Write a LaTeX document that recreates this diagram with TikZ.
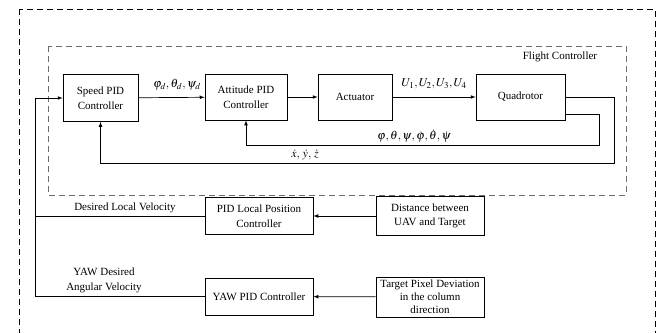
\documentclass[tikz,border=0pt]{standalone}
\usepackage{mathptmx}
\usepackage{fontspec}
\setmainfont{Liberation Serif}
\usepackage{tikz}
\usetikzlibrary{calc}
\tikzset{ ctrl_box/.style = {rectangle, draw, line width=0.7pt, align=center, inner sep=1pt} }
\tikzset{ sig_line/.style = {line width=0.7pt, >=latex} }
\tikzset{ frame_box/.style = {dash pattern=on 6pt off 4pt, line width=0.7pt} }
\tikzset{ sig_label/.style = {font=\fontsize{12}{14}\selectfont, inner sep=1pt} }

\begin{document}
\begin{tikzpicture}[x=1pt,y=-1pt,font=\fontsize{11}{14.5}\selectfont]
\useasboundingbox (0,0) rectangle (666,332);
\clip (0,0) rectangle (666,332);
\draw[frame_box] (19,9) rectangle (655,345);
\draw[frame_box, gray!85!black] (48,46) rectangle (626,195);
\node (fc) at (560,57) {Flight Controller};
\node[ctrl_box, minimum width=75pt, minimum height=47pt] (speed) at (100.5,98) {Speed PID\\Controller};
\node[ctrl_box, minimum width=82pt, minimum height=46pt] (att) at (246,97) {Attitude PID\\Controller};
\node[ctrl_box, minimum width=74pt, minimum height=46pt] (act) at (355,97) {Actuator};
\node[ctrl_box, minimum width=89pt, minimum height=46pt] (quad) at (520.5,97) {Quadrotor};
\node[ctrl_box, minimum width=108pt, minimum height=37pt] (pidpos) at (259,216) {PID Local Position\\Controller};
\node[ctrl_box, minimum width=108pt, minimum height=39pt] (dist) at (430,216) {Distance between\\UAV and Target};
\node[ctrl_box, minimum width=108pt, minimum height=40pt, font=\fontsize{11}{13}\selectfont] (target) at (430,297) {Target Pixel Deviation\\in the column\\direction};
\node[ctrl_box, minimum width=108pt, minimum height=37pt] (yawpid) at (259,296.5) {YAW PID Controller};
\coordinate (bus) at (35,98);
% forward path
\draw[sig_line,->] (speed) -- (att);
\draw[sig_line,->] (att) -- (act);
\draw[sig_line,->] (act) -- (quad);
\node[sig_label] (attref) at (177,85) {$\varphi_d,\theta_d,\psi_d$};
\node[sig_label] (uin) at (434,84) {$U_1,U_2,U_3,U_4$};
% feedback loops
\draw[sig_line,->] ([yshift=-17pt]quad.east) -- ++(34,0) |- ([yshift=-25pt]att.south) -- (att.south);
\draw[sig_line,->] (quad.east) -- ++(49,0) |- ([yshift=-41pt]speed.south) -- (speed.south);
\node[sig_label] (attfb) at (414,136) {$\varphi,\theta,\psi,\dot{\varphi},\dot{\theta},\dot{\psi}$};
\node[sig_label] (velfb) at (305,155) {$\dot{x},\,\dot{y},\,\dot{z}$};
% outer loops
\draw[sig_line,->] (dist) -- (pidpos);
\draw[sig_line,->] (target) -- (yawpid);
\draw[sig_line] (pidpos.west) -- (pidpos.west -| bus);
\draw[sig_line,->] (yawpid.west) -| (bus) -- (speed.west);
\node (vdes) at (125,208) {Desired Local Velocity};
\node[align=center] (yawdes) at (104,280.5) {YAW Desired\\Angular Velocity};
\end{tikzpicture}
\end{document}
